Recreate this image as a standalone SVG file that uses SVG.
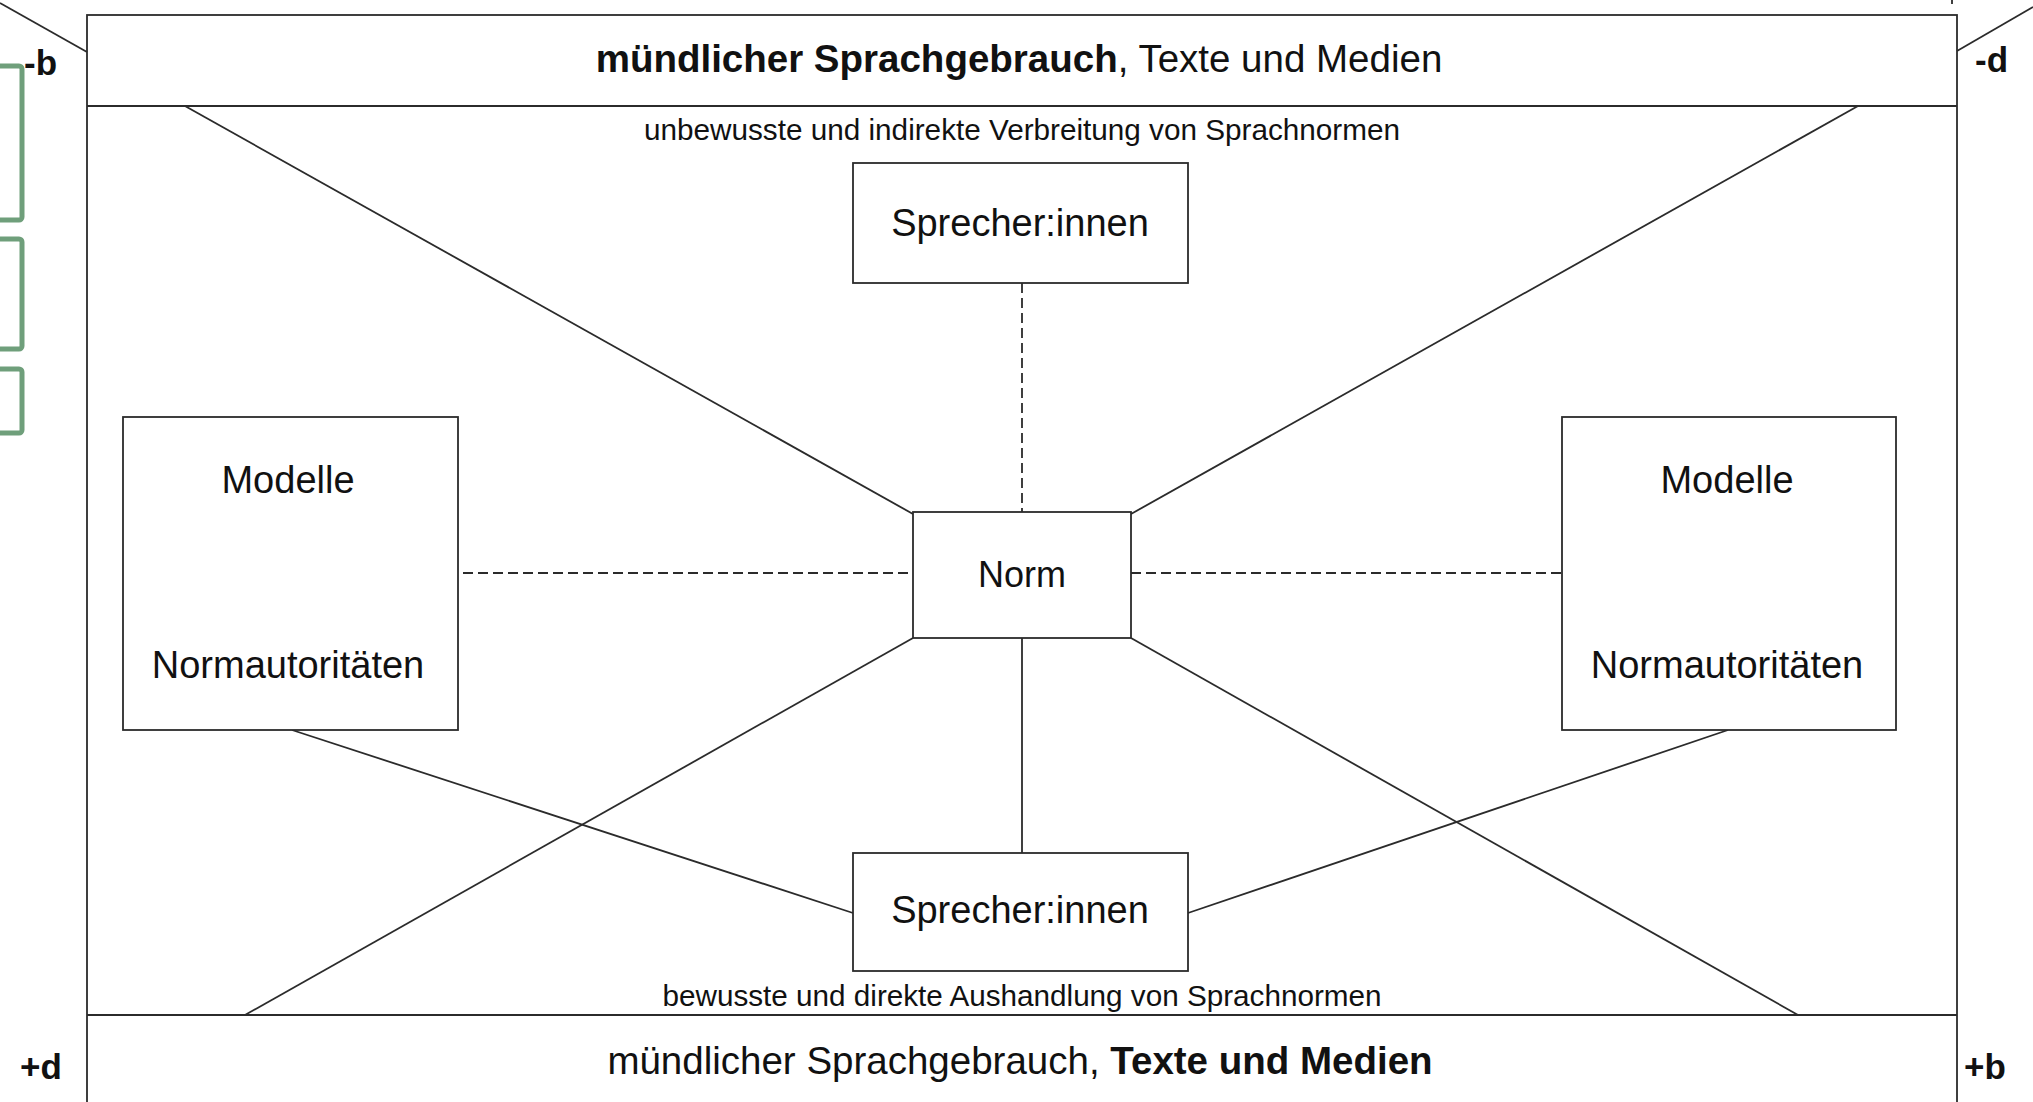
<svg xmlns="http://www.w3.org/2000/svg" width="2033" height="1102" viewBox="0 0 2033 1102">
<style>
.ln{stroke:#2b2b2b;stroke-width:1.8;fill:none}
.dash{stroke:#2b2b2b;stroke-width:1.8;fill:none;stroke-dasharray:10 5}
.box{fill:#ffffff;stroke:#2b2b2b;stroke-width:1.8}
.gbox{fill:none;stroke:#6f9f7b;stroke-width:5}
.t{font-family:"Liberation Sans",Arial,sans-serif;fill:#111;text-anchor:middle}
.lbl{font-family:"Liberation Sans",Arial,sans-serif;fill:#111;font-weight:bold;font-size:35px}
</style>
<rect width="2033" height="1102" fill="#ffffff"/>

<g id="frame">
<rect x="87" y="15" width="1870" height="1100" class="box"/>
<line x1="87" y1="106" x2="1957" y2="106" class="ln"/>
<line x1="87" y1="1015" x2="1957" y2="1015" class="ln"/>
<line x1="0" y1="3" x2="87" y2="52" class="ln"/>
<line x1="1957" y1="51" x2="2033" y2="7" class="ln"/>
<line x1="1952" y1="0" x2="1952" y2="4" class="ln"/>
</g>

<g id="side-marks">
<rect x="-20" y="66" width="42" height="154" rx="3" class="gbox"/>
<rect x="-20" y="239" width="42" height="110" rx="3" class="gbox"/>
<rect x="-20" y="369" width="42" height="64" rx="3" class="gbox"/>
<text x="24" y="75" class="lbl">-b</text>
<text x="1975" y="72" class="lbl">-d</text>
<text x="20" y="1079" class="lbl">+d</text>
<text x="1964" y="1079" class="lbl">+b</text>
</g>

<g id="connectors">
<line x1="185" y1="106" x2="913" y2="514" class="ln"/>
<line x1="1858" y1="106" x2="1131" y2="514" class="ln"/>
<line x1="913" y1="638" x2="245" y2="1015" class="ln"/>
<line x1="1131" y1="638" x2="1798" y2="1015" class="ln"/>
<line x1="1022" y1="283" x2="1022" y2="512" class="dash"/>
<line x1="463" y1="573" x2="913" y2="573" class="dash"/>
<line x1="1131" y1="573" x2="1562" y2="573" class="dash"/>
<line x1="1022" y1="638" x2="1022" y2="853" class="ln"/>
<line x1="292" y1="730" x2="853" y2="913" class="ln"/>
<line x1="1728" y1="730" x2="1188" y2="913" class="ln"/>
</g>

<g id="header-top">
<text x="1019" y="72" class="t" font-size="38.5"><tspan font-weight="bold">mündlicher Sprachgebrauch</tspan>, Texte  und Medien</text>
<text x="1022" y="140" class="t" font-size="30" textLength="756" lengthAdjust="spacingAndGlyphs">unbewusste und  indirekte Verbreitung von Sprachnormen</text>
</g>

<g id="header-bottom">
<text x="1022" y="1006" class="t" font-size="30" textLength="719" lengthAdjust="spacingAndGlyphs">bewusste und  direkte Aushandlung von Sprachnormen</text>
<text x="1020" y="1074" class="t" font-size="38.5">mündlicher Sprachgebrauch, <tspan font-weight="bold">Texte und Medien</tspan></text>
</g>

<g id="node-sprecher-top">
<rect x="853" y="163" width="335" height="120" class="box"/>
<text x="1020" y="236" class="t" font-size="38">Sprecher:innen</text>
</g>

<g id="node-norm">
<rect x="913" y="512" width="218" height="126" class="box"/>
<text x="1022" y="587" class="t" font-size="36">Norm</text>
</g>

<g id="node-modelle-left">
<rect x="123" y="417" width="335" height="313" class="box"/>
<text x="288" y="493" class="t" font-size="38">Modelle</text>
<text x="288" y="678" class="t" font-size="38">Normautoritäten</text>
</g>

<g id="node-modelle-right">
<rect x="1562" y="417" width="334" height="313" class="box"/>
<text x="1727" y="493" class="t" font-size="38">Modelle</text>
<text x="1727" y="678" class="t" font-size="38">Normautoritäten</text>
</g>

<g id="node-sprecher-bottom">
<rect x="853" y="853" width="335" height="118" class="box"/>
<text x="1020" y="923" class="t" font-size="38">Sprecher:innen</text>
</g>
</svg>
